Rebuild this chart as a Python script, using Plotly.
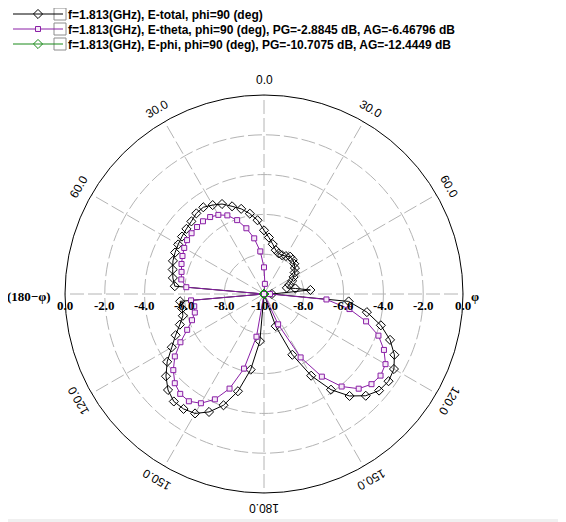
import math
import plotly.graph_objects as go

# ---- data -------------------------------------------------------------
theta_deg = [-180, -175, -170, -165, -160, -155, -150, -145, -140, -135,
             -130, -125, -120, -115, -110, -105, -100, -95, -90, -85,
             -80, -75, -70, -65, -60, -55, -50, -45, -40, -35,
             -30, -25, -20, -15, -10, -5, 0, 5, 10, 15,
             20, 25, 30, 35, 40, 45, 50, 55, 60, 65,
             70, 75, 80, 85, 90, 95, 100, 105, 110, 115,
             120, 125, 130, 135, 140, 145, 150, 155, 160, 165,
             170, 175, 180]

e_total = [-10.0, -7.62, -6.14, -4.94, -4.05, -3.46, -3.07, -2.95, -2.95, -3.18,
           -3.57, -4.06, -4.65, -5.10, -5.50, -5.78, -5.82, -5.77, -10.0, -5.50,
           -5.35, -5.25, -5.13, -5.07, -5.02, -4.97, -4.91, -4.84, -4.71, -4.68,
           -4.84, -5.01, -5.31, -5.57, -5.90, -6.28, -6.80, -7.15, -7.46, -7.72,
           -7.83, -7.85, -7.80, -7.71, -7.75, -7.85, -7.97, -8.12, -8.28, -8.44,
           -8.64, -8.81, -8.40, -7.66, -9.60, -5.73, -4.75, -3.92, -3.26, -2.77,
           -2.46, -2.36, -2.45, -2.77, -3.31, -4.13, -5.26, -6.63, -8.28, -10.0,
           -10.0, -10.0, -10.0]

e_theta = [-10.0, -10.0, -7.82, -6.12, -4.94, -4.16, -3.66, -3.42, -3.45, -3.66,
           -4.05, -4.53, -5.15, -5.74, -6.15, -6.40, -6.44, -6.32, -10.0, -6.08,
           -5.78, -5.71, -5.59, -5.48, -5.37, -5.28, -5.25, -5.24, -5.23, -5.28,
           -5.41, -5.64, -6.05, -6.58, -7.16, -7.85, -8.66, -9.49, -10.0, -10.0,
           -10.0, -10.0, -10.0, -10.0, -10.0, -10.0, -10.0, -10.0, -10.0, -10.0,
           -10.0, -10.0, -10.0, -10.0, -9.70, -6.85, -5.64, -4.69, -3.88, -3.35,
           -2.95, -2.85, -2.95, -3.27, -3.93, -4.93, -6.32, -8.32, -10.0, -10.0,
           -10.0, -10.0, -10.0]

# E-phi stays below the -10 dB floor over the whole sweep (drawn at centre)
e_phi = [-10.0] * 73

series_names = [
    "f=1.813(GHz), E-total, phi=90 (deg)",
    "f=1.813(GHz), E-theta, phi=90 (deg), PG=-2.8845 dB, AG=-6.46796 dB",
    "f=1.813(GHz), E-phi, phi=90 (deg), PG=-10.7075 dB, AG=-12.4449 dB",
]

radial_ticks = [-10, -8, -6, -4, -2, 0]
angle_labels = [0, 30, 60, 120, 150, 180, -30, -60, -120, -150]

# ---- layout geometry (screen px; page body has an 8px margin) ----------
OFF = 8
SW, SH = 566, 522
W, H = SW - OFF, SH - OFF
X0, X1, Y0, Y1 = 65, 463, 95, 493           # polar circle box (screen px)
CX, CY, R = (X0 + X1) / 2, (Y0 + Y1) / 2, (X1 - X0) / 2
RMIN, RMAX = -10, 0

col_total = "#000000"
col_theta = "#8a1fa6"
col_phi = "#1a8a1a"
grid_col = "#b4b4b4"
SANS = "Liberation Sans, Arial, sans-serif"
SERIF = "Liberation Serif, Times New Roman, serif"


def px(x, y):
    """screen pixel -> paper coords"""
    return (x - OFF) / W, 1 - (y - OFF) / H


fig = go.Figure()
styles = [
    dict(line=dict(color=col_total, width=1),
         marker=dict(symbol="diamond-open", size=7, color=col_total, line=dict(width=1))),
    dict(line=dict(color=col_theta, width=1),
         marker=dict(symbol="square", size=5, color="#f6eaf8", line=dict(width=1, color=col_theta))),
    dict(line=dict(color=col_phi, width=1),
         marker=dict(symbol="diamond-open", size=7, color=col_phi, line=dict(width=1))),
]
legend_ids = ["legend", "legend2", "legend3"]
for vals, name, st, lg in zip([e_total, e_theta, e_phi], series_names, styles, legend_ids):
    fig.add_trace(go.Scatterpolar(r=vals, theta=theta_deg, name=name, mode="lines+markers",
                                  legend=lg, **st))

pd0 = px(X0, Y1)
pd1 = px(X1, Y0)
layout = dict(
    width=W, height=H,
    margin=dict(l=0, r=0, t=0, b=0, autoexpand=False),
    paper_bgcolor="white",
    font=dict(family=SANS, size=12, color="black"),
    polar=dict(
        domain=dict(x=[pd0[0], pd1[0]], y=[pd0[1], pd1[1]]),
        bgcolor="white",
        radialaxis=dict(range=[RMIN, RMAX], tickvals=radial_ticks, showticklabels=False,
                        ticks="", showline=False, gridcolor=grid_col, griddash="14px,4px",
                        gridwidth=1),
        angularaxis=dict(rotation=90, direction="clockwise",
                         tickvals=[0, 30, 60, 90, 120, 150, 180, 210, 240, 270, 300, 330],
                         showticklabels=False, ticks="", showline=True,
                         linecolor="black", linewidth=1, gridcolor=grid_col,
                         griddash="14px,4px", gridwidth=1),
    ),
    showlegend=True,
)
row_y = [14, 29, 44]
for lg, ry in zip(legend_ids, row_y):
    layout[lg] = dict(x=0.0, y=px(0, ry)[1], xanchor="left", yanchor="middle",
                      bgcolor="rgba(0,0,0,0)", itemwidth=50,
                      font=dict(family=SANS, size=12, color="black", weight="bold"))
fig.update_layout(**layout)

shapes = []
# legend check boxes
for ry in row_y:
    a = px(54, ry - 6)
    b = px(66, ry + 6)
    shapes.append(dict(type="rect", xref="paper", yref="paper", x0=a[0], x1=b[0],
                       y0=b[1], y1=a[1], line=dict(color="#8c8c8c", width=1),
                       fillcolor="white", layer="above"))
# thin light band at the bottom edge of the window
a = px(OFF, SH - 3)
b = px(SW, SH)
shapes.append(dict(type="rect", xref="paper", yref="paper", x0=a[0], x1=b[0],
                   y0=b[1], y1=a[1], line=dict(width=0), fillcolor="#f0f0f0", layer="below"))

annotations = []
# angular labels, rotated tangentially
for a in angle_labels:
    rad = math.radians(a)
    xp, yp = px(CX + (R + 15) * math.sin(rad), CY - (R + 15) * math.cos(rad))
    annotations.append(dict(x=xp, y=yp, xref="paper", yref="paper", text=f"{abs(a):.1f}",
                            showarrow=False, textangle=a, xanchor="center", yanchor="middle",
                            font=dict(family=SANS, size=12)))

# radial labels along the horizontal diameter (both sides)
lab_font = dict(family=SERIF, size=13, color="black", weight="bold")
for v in radial_ticks:
    d = R * (v - RMIN) / (RMAX - RMIN)
    sides = [1] if d == 0 else [-1, 1]
    for s in sides:
        xp, yp = px(CX + s * d, CY + 11)
        annotations.append(dict(x=xp, y=yp, xref="paper", yref="paper", text=f"{v:.1f}",
                                showarrow=False, xanchor="center", yanchor="middle",
                                font=lab_font))

xp, yp = px(29, CY + 2)
annotations.append(dict(x=xp, y=yp, xref="paper", yref="paper", text="(180−φ)",
                        showarrow=False, xanchor="center", yanchor="middle", font=lab_font))
xp, yp = px(475, CY + 2)
annotations.append(dict(x=xp, y=yp, xref="paper", yref="paper", text="φ",
                        showarrow=False, xanchor="center", yanchor="middle", font=lab_font))
fig.update_layout(annotations=annotations, shapes=shapes)

fig.write_html("out.html")
